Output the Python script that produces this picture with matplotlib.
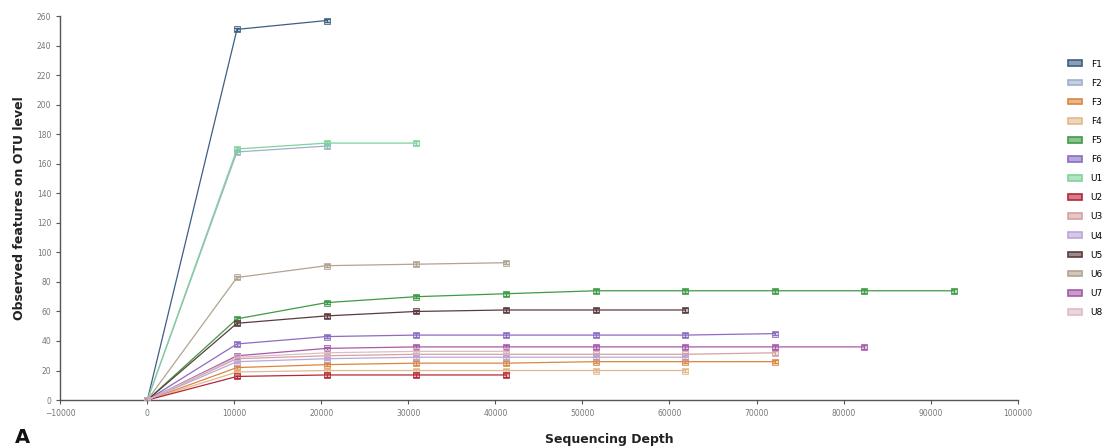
import matplotlib.pyplot as plt
import matplotlib.patches as mpatches
import numpy as np

# rarefaction depths (step ~10300 reads)
depths = [0, 10300, 20600, 30900, 41200, 51500, 61800, 72100, 82400, 92700]

names = ['F1', 'F2', 'F3', 'F4', 'F5', 'F6', 'U1', 'U2', 'U3', 'U4', 'U5', 'U6', 'U7', 'U8']
colors = ['#3d5f82', '#9fb0cc', '#d9873e', '#e3b88e', '#3f9a45', '#8a6cc2', '#7fd39a',
          '#b3283a', '#d3a2a2', '#bca6d8', '#5b3b3e', '#b2a392', '#a65aa8', '#dcbcc6']

# observed features per depth step (series stops at sample max depth)
values = {
    'F1': [0, 251, 257],
    'F2': [0, 168, 172],
    'F3': [0, 22, 24, 25, 25, 26, 26, 26],
    'F4': [0, 19, 20, 20, 20, 20, 20],
    'F5': [0, 55, 66, 70, 72, 74, 74, 74, 74, 74],
    'F6': [0, 38, 43, 44, 44, 44, 44, 45],
    'U1': [0, 170, 174, 174],
    'U2': [0, 16, 17, 17, 17],
    'U3': [0, 28, 30, 31, 31, 31, 31, 32],
    'U4': [0, 26, 28, 29, 29, 29, 29],
    'U5': [0, 52, 57, 60, 61, 61, 61],
    'U6': [0, 83, 91, 92, 93],
    'U7': [0, 30, 35, 36, 36, 36, 36, 36, 36],
    'U8': [0, 29, 32, 33, 33],
}
errs = {k: [0] + [1.2] * (len(v) - 1) for k, v in values.items()}

fig = plt.figure(figsize=(11.17, 4.47), dpi=100)
ax = fig.add_axes([0.054, 0.105, 0.857, 0.859])

for name, col in zip(names, colors):
    y = values[name]
    x = depths[:len(y)]
    ax.errorbar(x, y, yerr=errs[name], color=col, lw=0.9, marker='s', ms=4,
                mfc=col + '55', mec=col + 'cc', mew=0.7, elinewidth=0.7, capsize=2, zorder=3)

ax.set_xlim(-10000, 100000)
ax.set_ylim(0, 260)
ax.set_xticks(np.arange(-10000, 100001, 10000))
ax.set_yticks(np.arange(0, 261, 20))
ax.tick_params(labelsize=5.5, colors='#555555', length=3, width=0.8, labelcolor='#777777')
for s in ['top', 'right']:
    ax.spines[s].set_visible(False)
for s in ['left', 'bottom']:
    ax.spines[s].set_color('#555555')
    ax.spines[s].set_linewidth(1.0)

ax.set_ylabel('Observed features on OTU level', fontsize=9, fontweight='bold', color='#222222', labelpad=8)
ax.set_xlabel('Sequencing Depth', fontsize=9, fontweight='bold', color='#222222')
ax.xaxis.set_label_coords(0.573, -0.085)
fig.text(0.013, 0.01, 'A', fontsize=14, fontweight='bold', color='#111111')

handles = [mpatches.Patch(facecolor=c + '99', edgecolor=c, lw=1.2, label=n) for n, c in zip(names, colors)]
fig.legend(handles=handles, loc='upper left', bbox_to_anchor=(0.949, 0.885), frameon=False,
           fontsize=6.5, handlelength=1.5, handleheight=0.6, labelspacing=1.12, handletextpad=1.0)

fig.savefig('out.png', dpi=100)
